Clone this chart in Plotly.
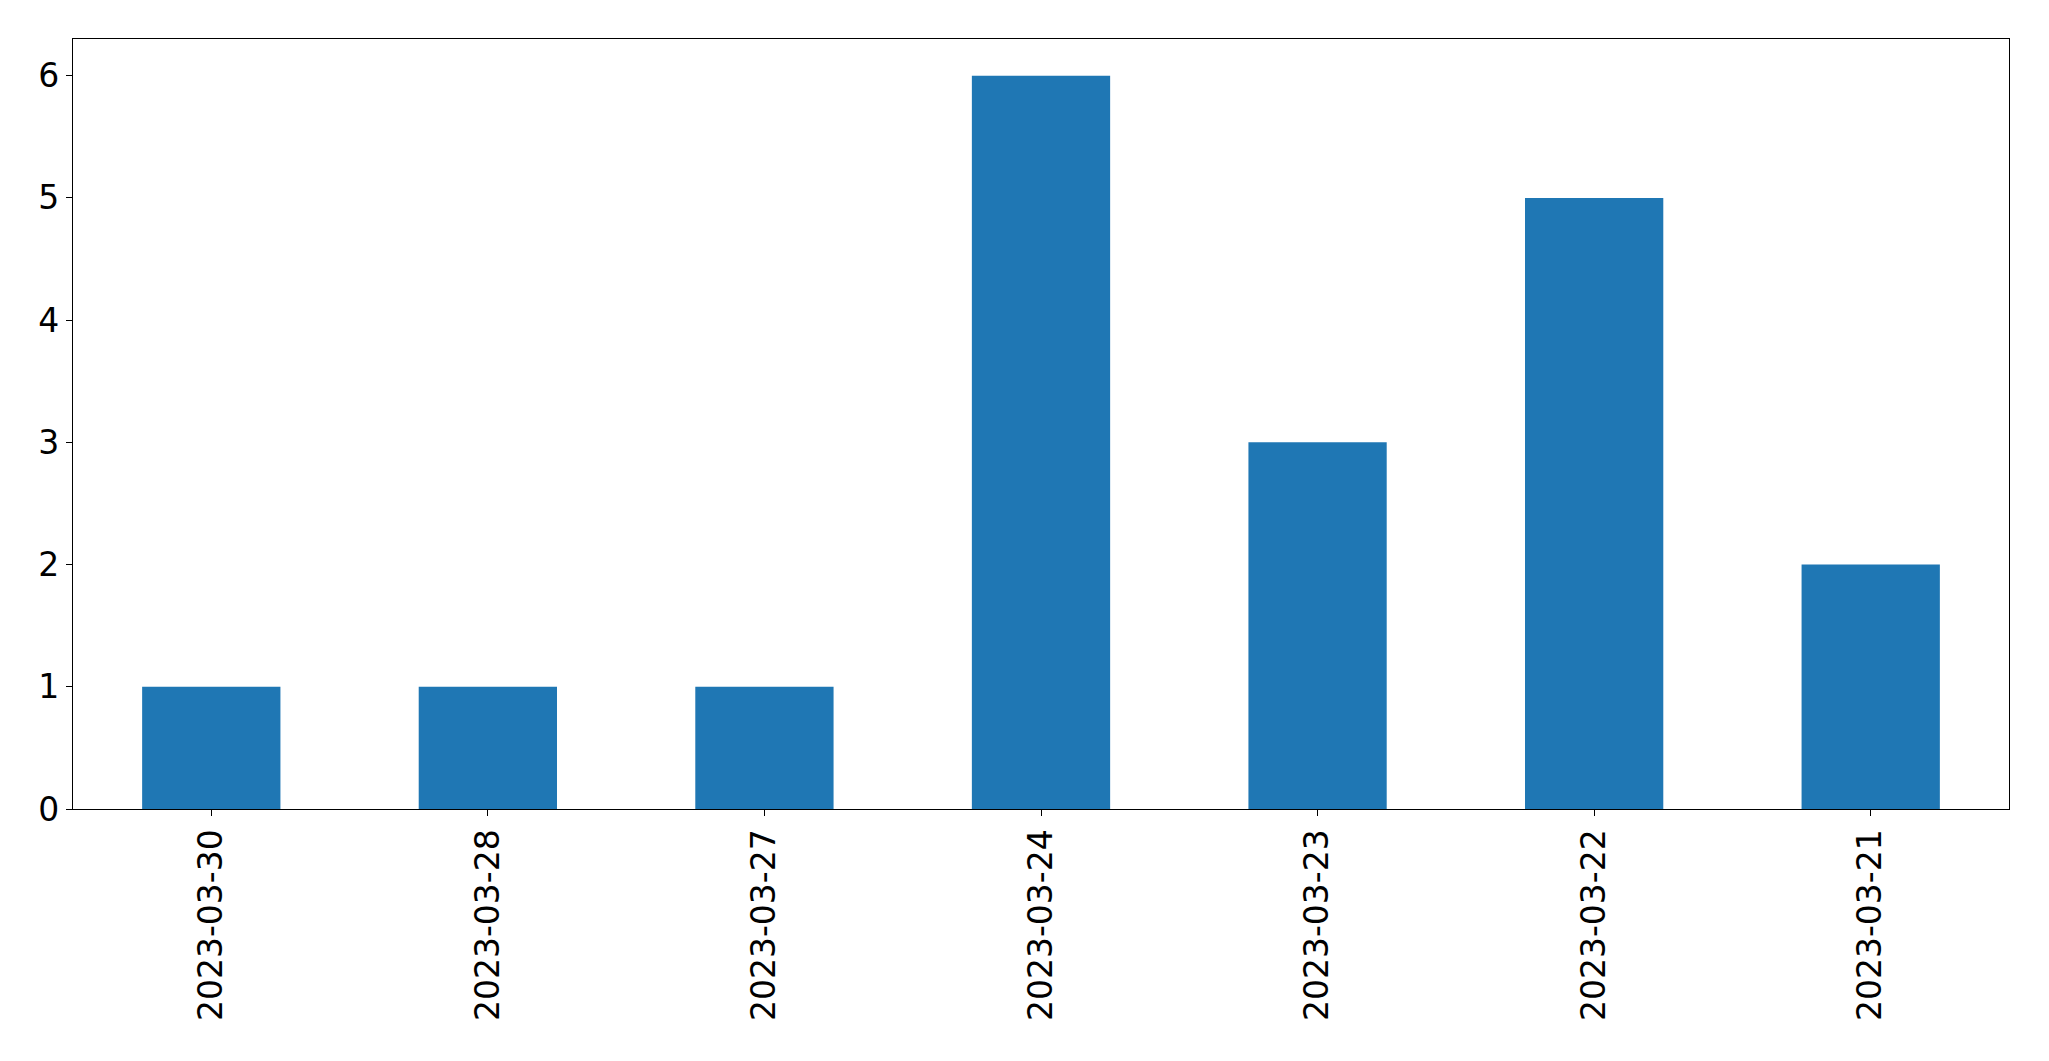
import plotly.graph_objects as go

dates = ["2023-03-30", "2023-03-28", "2023-03-27", "2023-03-24", "2023-03-23", "2023-03-22", "2023-03-21"]
counts = [1, 1, 1, 6, 3, 5, 2]
y_ticks = [0, 1, 2, 3, 4, 5, 6]

fig = go.Figure(go.Bar(x=dates, y=counts, width=0.5, marker=dict(color="#1f77b4", line=dict(width=0))))

fig.update_layout(
    width=2041, height=1053,
    margin=dict(l=65, r=40, t=31, b=252, autoexpand=False),
    paper_bgcolor="white", plot_bgcolor="white",
    font=dict(family="DejaVu Sans", size=33, color="black"),
    showlegend=False,
)
fig.update_xaxes(
    type="category", range=[-0.5, 6.5], tickangle=-90,
    showline=True, linecolor="black", linewidth=1.2, mirror=True,
    ticks="outside", ticklen=6, tickwidth=1.2, tickcolor="black",
    showgrid=False, zeroline=False,
)
fig.update_yaxes(
    range=[0, 6.3], tickvals=y_ticks,
    showline=True, linecolor="black", linewidth=1.2, mirror=True,
    ticks="outside", ticklen=6, tickwidth=1.2, tickcolor="black",
    showgrid=False, zeroline=False,
)

fig.write_html("out.html")
